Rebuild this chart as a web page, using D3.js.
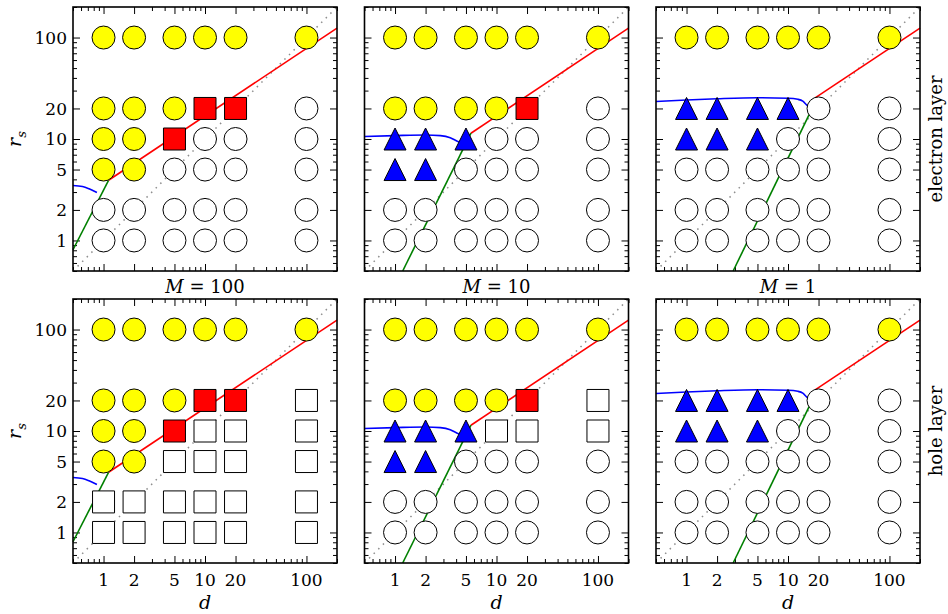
<!DOCTYPE html>
<meta charset="utf-8">
<body style="margin:0;background:#fff">
<style>
text {
  font-family: "DejaVu Serif", serif;
  fill: #000;
}
.tick-label { font-size: 17px; }
.axis-title { font-size: 19px; font-style: italic; }
.panel-title { font-size: 18px; }
.layer-label { font-size: 18px; }
</style>
<script src="https://d3js.org/d3.v7.min.js"></script>
<script>

// grid of simulated points
var dValues = [1, 2, 5, 10, 20, 100];
var rsValues = [100, 20, 10, 5, 2, 1];
var massLabels = ["100", "10", "1"];
var layerLabels = ["electron layer", "hole layer"];
var tickLabels = [1, 2, 5, 10, 20, 100];

// phase per point: one string per r_s row (top to bottom), one letter per d
// Y = yellow circle, R = red square, B = blue triangle, W = open circle, S = open square
var electronM100 = ["YYYYYY", "YYYRRW", "YYRWWW", "YYWWWW", "WWWWWW", "WWWWWW"];
var electronM10  = ["YYYYYY", "YYYYRW", "BBBWWW", "BBWWWW", "WWWWWW", "WWWWWW"];
var electronM1   = ["YYYYYY", "BBBBWW", "BBBWWW", "WWWWWW", "WWWWWW", "WWWWWW"];
var holeM100     = ["YYYYYY", "YYYRRS", "YYRSSS", "YYSSSS", "SSSSSS", "SSSSSS"];
var holeM10      = ["YYYYYY", "YYYYRS", "BBBSSS", "BBWWWW", "WWWWWW", "WWWWWW"];
var holeM1       = ["YYYYYY", "BBBBWW", "BBBWWW", "WWWWWW", "WWWWWW", "WWWWWW"];

// phase boundaries, [d, r_s] pairs (same for both layers)
var redM100 = [[1.12, 3.92], [200, 124]];
var redM10  = [[5.6, 11.4], [200, 124]];
var redM1   = [[18.5, 25.4], [200, 124]];
var greenM100 = [[0.5, 0.81], [1.12, 3.92]];
var greenM10  = [[1.19, 0.5], [5.6, 11.4]];
var greenM1   = [[2.88, 0.5], [17.5, 20.5]];
var blueM100 = [[0.5, 3.48], [0.62, 3.40], [0.72, 3.23], [0.86, 2.97]];
var blueM10  = [[0.5, 10.6], [1, 10.8], [2, 10.95], [2.8, 10.8], [3.5, 10.3], [4.1, 9.5], [4.8, 9.0]];
var blueM1   = [[0.5, 23.4], [1, 24.2], [2, 24.9], [5, 25.5], [10, 25.2], [12.5, 24.6], [14, 23.6], [15.4, 21.5], [17.5, 20.5]];
var diagonal = [[0.5, 0.5], [200, 200]];

var grids = [[electronM100, electronM10, electronM1], [holeM100, holeM10, holeM1]];
var reds = [redM100, redM10, redM1];
var greens = [greenM100, greenM10, greenM1];
var blues = [blueM100, blueM10, blueM1];

var width = 948, height = 614;
var size = 264;
var lefts = [73, 364.5, 656];
var tops = [7, 299];

var svg = d3.select("body").append("svg")
    .attr("width", width)
    .attr("height", height);

var x = d3.scaleLog().domain([0.5, 200]).range([0, size]);
var y = d3.scaleLog().domain([0.5, 200]).range([size, 0]);

var allTicks = x.ticks();
var minorTicks = allTicks.filter(function(t) { return tickLabels.indexOf(t) < 0; });

var triangleUp = {
  draw: function(ctx, s) {
    var h = Math.sqrt(s) / 2;
    ctx.moveTo(0, -h);
    ctx.lineTo(h, h);
    ctx.lineTo(-h, h);
    ctx.closePath();
  }
};

var markerStyle = {
  Y: {type: d3.symbolCircle, size: Math.PI * 11.5 * 11.5, fill: "#ffff00"},
  R: {type: d3.symbolSquare, size: 22 * 22, fill: "#ff0000"},
  B: {type: triangleUp, size: 22 * 22, fill: "#0000ff"},
  W: {type: d3.symbolCircle, size: Math.PI * 11.5 * 11.5, fill: "#ffffff"},
  S: {type: d3.symbolSquare, size: 22 * 22, fill: "#ffffff"}
};

var line = d3.line()
    .x(function(p) { return x(p[0]); })
    .y(function(p) { return y(p[1]); });
var smooth = d3.line()
    .x(function(p) { return x(p[0]); })
    .y(function(p) { return y(p[1]); })
    .curve(d3.curveMonotoneX);

function ticks(g, axis, len, values) {
  g.call(axis.tickValues(values).tickSize(-len).tickSizeOuter(0).tickFormat(""));
  g.select(".domain").remove();
  g.selectAll(".tick line").attr("stroke", "#000").attr("stroke-width", 1);
}

for (var row = 0; row < 2; row++) {
  for (var col = 0; col < 3; col++) {
    var g = svg.append("g").attr("transform", "translate(" + lefts[col] + "," + tops[row] + ")");

    // axes ticks on all four sides, inward
    [[tickLabels, 7], [minorTicks, 4]].forEach(function(t) {
      ticks(g.append("g").attr("transform", "translate(0," + size + ")"), d3.axisBottom(x), t[1], t[0]);
      ticks(g.append("g"), d3.axisTop(x), t[1], t[0]);
      ticks(g.append("g"), d3.axisLeft(y), t[1], t[0]);
      ticks(g.append("g").attr("transform", "translate(" + size + ",0)"), d3.axisRight(y), t[1], t[0]);
    });

    g.append("path")
        .attr("d", line(diagonal))
        .attr("fill", "none")
        .attr("stroke", "#8c8c8c")
        .attr("stroke-width", 1.5)
        .attr("stroke-dasharray", "1.5,5");

    g.append("path").attr("d", line(reds[col]))
        .attr("fill", "none").attr("stroke", "#ff0000").attr("stroke-width", 1.6);
    g.append("path").attr("d", line(greens[col]))
        .attr("fill", "none").attr("stroke", "#008000").attr("stroke-width", 1.6);
    g.append("path").attr("d", smooth(blues[col]))
        .attr("fill", "none").attr("stroke", "#0000ff").attr("stroke-width", 1.6);

    // points
    var pts = [];
    grids[row][col].forEach(function(codes, i) {
      dValues.forEach(function(d, j) {
        pts.push({d: d, rs: rsValues[i], phase: codes[j]});
      });
    });
    g.selectAll("path.marker")
      .data(pts)
      .enter().append("path")
        .attr("class", "marker")
        .attr("transform", function(p) { return "translate(" + x(p.d) + "," + y(p.rs) + ")"; })
        .attr("d", function(p) { return d3.symbol().type(markerStyle[p.phase].type).size(markerStyle[p.phase].size)(); })
        .attr("fill", function(p) { return markerStyle[p.phase].fill; })
        .attr("stroke", "#000")
        .attr("stroke-width", 1);

    g.append("rect")
        .attr("width", size)
        .attr("height", size)
        .attr("fill", "none")
        .attr("stroke", "#000")
        .attr("stroke-width", 1.6);

    if (col == 0) {
      g.selectAll("text.ylab")
        .data(tickLabels)
        .enter().append("text")
          .attr("class", "tick-label")
          .attr("x", -6)
          .attr("y", function(t) { return y(t); })
          .attr("dy", "0.36em")
          .attr("text-anchor", "end")
          .text(function(t) { return t; });
      var rl = g.append("text")
          .attr("class", "axis-title")
          .attr("transform", "translate(-52," + size / 2 + ") rotate(-90)")
          .attr("text-anchor", "middle");
      rl.append("tspan").text("r");
      rl.append("tspan").attr("font-size", "13px").attr("dy", "5").text("s");
    }
    if (row == 1) {
      g.selectAll("text.xlab")
        .data(tickLabels)
        .enter().append("text")
          .attr("class", "tick-label")
          .attr("x", function(t) { return x(t); })
          .attr("y", size + 23)
          .attr("text-anchor", "middle")
          .text(function(t) { return t; });
      g.append("text")
          .attr("class", "axis-title")
          .attr("x", size / 2)
          .attr("y", size + 46)
          .attr("text-anchor", "middle")
          .text("d");
    } else {
      var mt = g.append("text")
          .attr("class", "panel-title")
          .attr("x", size / 2)
          .attr("y", size + 22)
          .attr("text-anchor", "middle");
      mt.append("tspan").attr("font-style", "italic").text("M");
      mt.append("tspan").text(" = " + massLabels[col]);
    }
    if (col == 2) {
      g.append("text")
          .attr("class", "layer-label")
          .attr("transform", "translate(" + (size + 22) + "," + size / 2 + ") rotate(-90)")
          .attr("text-anchor", "middle")
          .text(layerLabels[row]);
    }
  }
}

</script>
</body>
